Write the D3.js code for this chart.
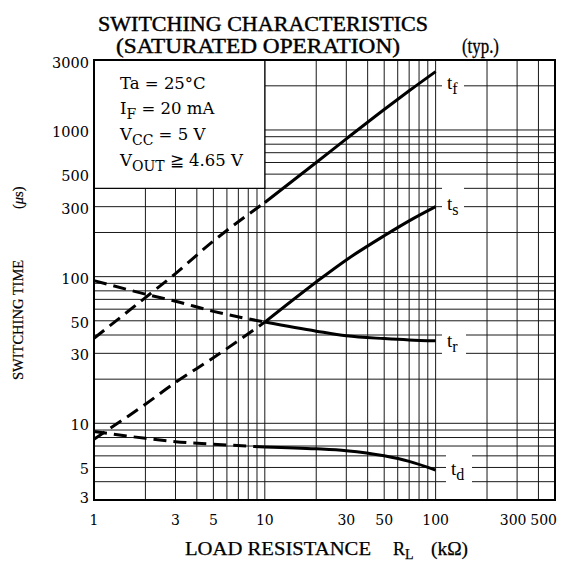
<!DOCTYPE html>
<html><head><meta charset="utf-8">
<script src="https://cdn.jsdelivr.net/npm/d3@7"></script>
<style>
html,body{margin:0;padding:0;background:#fff;}
svg{display:block;}
text{fill:#000;}
</style></head>
<body>
<svg id="chart" width="577" height="567"></svg>
<script>
// ---- data ----
const rlDashed = [1, 2, 3, 5, 10];
const rlSolid  = [10, 20, 30, 50, 70, 100];
const tfDashed = [38, 72, 105, 175, 320];
const tfSolid  = [320, 600, 870, 1380, 1850, 2500];
const tsDashed = [7.8, 13.5, 19, 28, 49];
const tsSolid  = [49, 92, 130, 190, 240, 300];
const trDashed = [94, 76, 68, 58, 49];
const trSolid  = [49, 42.5, 39.5, 37.8, 37, 36.5];
const tdDashed = [8.8, 7.9, 7.5, 7.2, 6.9];
const tdSolid  = [6.9, 6.7, 6.5, 6.0, 5.5, 4.8];
const seriesNames = ["f", "s", "r", "d"];
const xTickLabels = [1, 3, 5, 10, 30, 50, 100, 300, 500];
const yTickLabels = [3, 5, 10, 30, 50, 100, 300, 500, 1000, 3000];
const xGridVals = [1,2,3,4,5,6,7,8,9,10,20,30,40,50,60,70,80,90,100,200,300,400,500];
const yGridVals = [3,4,5,6,7,8,9,10,20,30,40,50,60,70,80,90,100,200,300,400,500,600,700,800,900,1000,2000,3000];
const conditions = [["Ta = 25°C", ""], ["I", "F", " = 20 mA"], ["V", "CC", " = 5 V"], ["V", "OUT", " ≧ 4.65 V"]];

// ---- chart ----
const svg = d3.select("#chart");
const x = d3.scaleLog().domain([1, 500]).range([94, 555]);
const y = d3.scaleLog().domain([3, 3000]).range([500, 60]);
const serif = "'Liberation Serif', 'Times New Roman', serif";
const serif2 = "'DejaVu Serif', 'Liberation Serif', serif";

// grid
const g = svg.append("g");
g.selectAll("line.v").data(xGridVals).join("line")
  .attr("x1", d => x(d)).attr("x2", d => x(d))
  .attr("y1", y(3)).attr("y2", y(3000))
  .attr("stroke", "#1a1a1a").attr("stroke-width", 1);
g.selectAll("line.h").data(yGridVals).join("line")
  .attr("y1", d => y(d)).attr("y2", d => y(d))
  .attr("x1", x(1)).attr("x2", x(500))
  .attr("stroke", "#1a1a1a").attr("stroke-width", 1);

// condition box
svg.append("rect").attr("x", x(1)).attr("y", y(3000))
  .attr("width", x(10) - x(1)).attr("height", y(400) - y(3000))
  .attr("fill", "#fff").attr("stroke", "#000").attr("stroke-width", 1.2);

const ct = svg.append("g").attr("font-family", serif2).attr("font-size", 16.5);
const condY = [89, 114, 140, 166];
conditions.forEach((c, i) => {
  const t = ct.append("text").attr("x", 120).attr("y", condY[i]);
  if (c.length === 2) { t.text(c[0]); return; }
  t.append("tspan").text(c[0]);
  t.append("tspan").attr("dy", 5).attr("font-size", 14).text(c[1]);
  t.append("tspan").attr("dy", -5).text(c[2]);
});

// curve label backgrounds + labels
const labelPos = [
  {n: "f", x: 447, y: 86, bx: 442, by: 74, bw: 22, bh: 24},
  {n: "s", x: 447, y: 207, bx: 442, by: 183, bw: 22, bh: 34},
  {n: "r", x: 447, y: 344, bx: 442, by: 330, bw: 24, bh: 28},
  {n: "d", x: 451, y: 472, bx: 446, by: 451, bw: 26, bh: 36}
];
labelPos.forEach(p => {
  svg.append("rect").attr("x", p.bx).attr("y", p.by).attr("width", p.bw).attr("height", p.bh).attr("fill", "#fff");
  const t = svg.append("text").attr("x", p.x).attr("y", p.y + 3)
    .attr("font-family", serif).attr("font-size", 19);
  t.append("tspan").text("t");
  t.append("tspan").attr("dy", 5).attr("font-size", 16).text(p.n);
});

// border
svg.append("rect").attr("x", x(1)).attr("y", y(3000))
  .attr("width", x(500) - x(1)).attr("height", y(3) - y(3000))
  .attr("fill", "none").attr("stroke", "#000").attr("stroke-width", 2);

// curves
const line = d3.line().x(d => x(d[0])).y(d => y(d[1])).curve(d3.curveMonotoneX);
const dashedSets = [tfDashed, tsDashed, trDashed, tdDashed];
const solidSets = [tfSolid, tsSolid, trSolid, tdSolid];
dashedSets.forEach(v => {
  svg.append("path").attr("d", line(rlDashed.map((r, i) => [r, v[i]])))
    .attr("fill", "none").attr("stroke", "#000").attr("stroke-width", 3)
    .attr("stroke-dasharray", "13,7");
});
solidSets.forEach(v => {
  svg.append("path").attr("d", line(rlSolid.map((r, i) => [r, v[i]])))
    .attr("fill", "none").attr("stroke", "#000").attr("stroke-width", 3);
});

// y tick labels
const yl = svg.append("g").attr("font-family", serif2).attr("font-size", 14.5).attr("text-anchor", "end");
yTickLabels.forEach(v => {
  let dy = 2;
  if (v === 3000) dy = 3;
  if (v === 3) dy = -2;
  yl.append("text").attr("x", 89).attr("y", y(v) + dy).attr("dominant-baseline", "central").text(v);
});
// x tick labels
const xl = svg.append("g").attr("font-family", serif2).attr("font-size", 14).attr("text-anchor", "middle");
xTickLabels.forEach(v => {
  let xx = x(v), anchor = "middle";
  if (v === 500) { xx = x(v) + 2; anchor = "end"; }
  if (v === 300) xx -= 4;
  xl.append("text").attr("x", xx).attr("y", 525).attr("text-anchor", anchor).text(v);
});

// titles
svg.append("text").attr("x", 98).attr("y", 31).attr("font-family", serif).attr("font-size", 20)
  .attr("stroke", "#000").attr("stroke-width", 0.4)
  .attr("textLength", 330).attr("lengthAdjust", "spacingAndGlyphs").text("SWITCHING CHARACTERISTICS");
svg.append("text").attr("x", 116).attr("y", 53).attr("font-family", serif).attr("font-size", 20)
  .attr("stroke", "#000").attr("stroke-width", 0.4)
  .attr("textLength", 284).attr("lengthAdjust", "spacingAndGlyphs").text("(SATURATED OPERATION)");
svg.append("text").attr("x", 462).attr("y", 53).attr("font-family", serif).attr("font-size", 20)
  .attr("stroke", "#000").attr("stroke-width", 0.3)
  .attr("textLength", 37).attr("lengthAdjust", "spacingAndGlyphs").text("(typ.)");

// x axis title
const xt = svg.append("g").attr("font-family", serif).attr("font-size", 18)
  .attr("stroke", "#000").attr("stroke-width", 0.25);
xt.append("text").attr("x", 185).attr("y", 555)
  .attr("textLength", 186).attr("lengthAdjust", "spacingAndGlyphs").text("LOAD RESISTANCE");
const rl = xt.append("text").attr("x", 393).attr("y", 555);
rl.append("tspan").text("R");
rl.append("tspan").attr("dy", 4).attr("font-size", 14).text("L");
xt.append("text").attr("x", 431).attr("y", 555)
  .attr("textLength", 37).attr("lengthAdjust", "spacingAndGlyphs").text("(kΩ)");

// y axis title
const yt = svg.append("text").attr("transform", "translate(23,380) rotate(-90)")
  .attr("font-family", serif).attr("font-size", 14.5)
  .attr("stroke", "#000").attr("stroke-width", 0.2);
yt.append("tspan").text("SWITCHING TIME");
yt.append("tspan").attr("x", 171).text("(");
yt.append("tspan").attr("font-style", "italic").text("μ");
yt.append("tspan").text("s)");
</script>
</body></html>
